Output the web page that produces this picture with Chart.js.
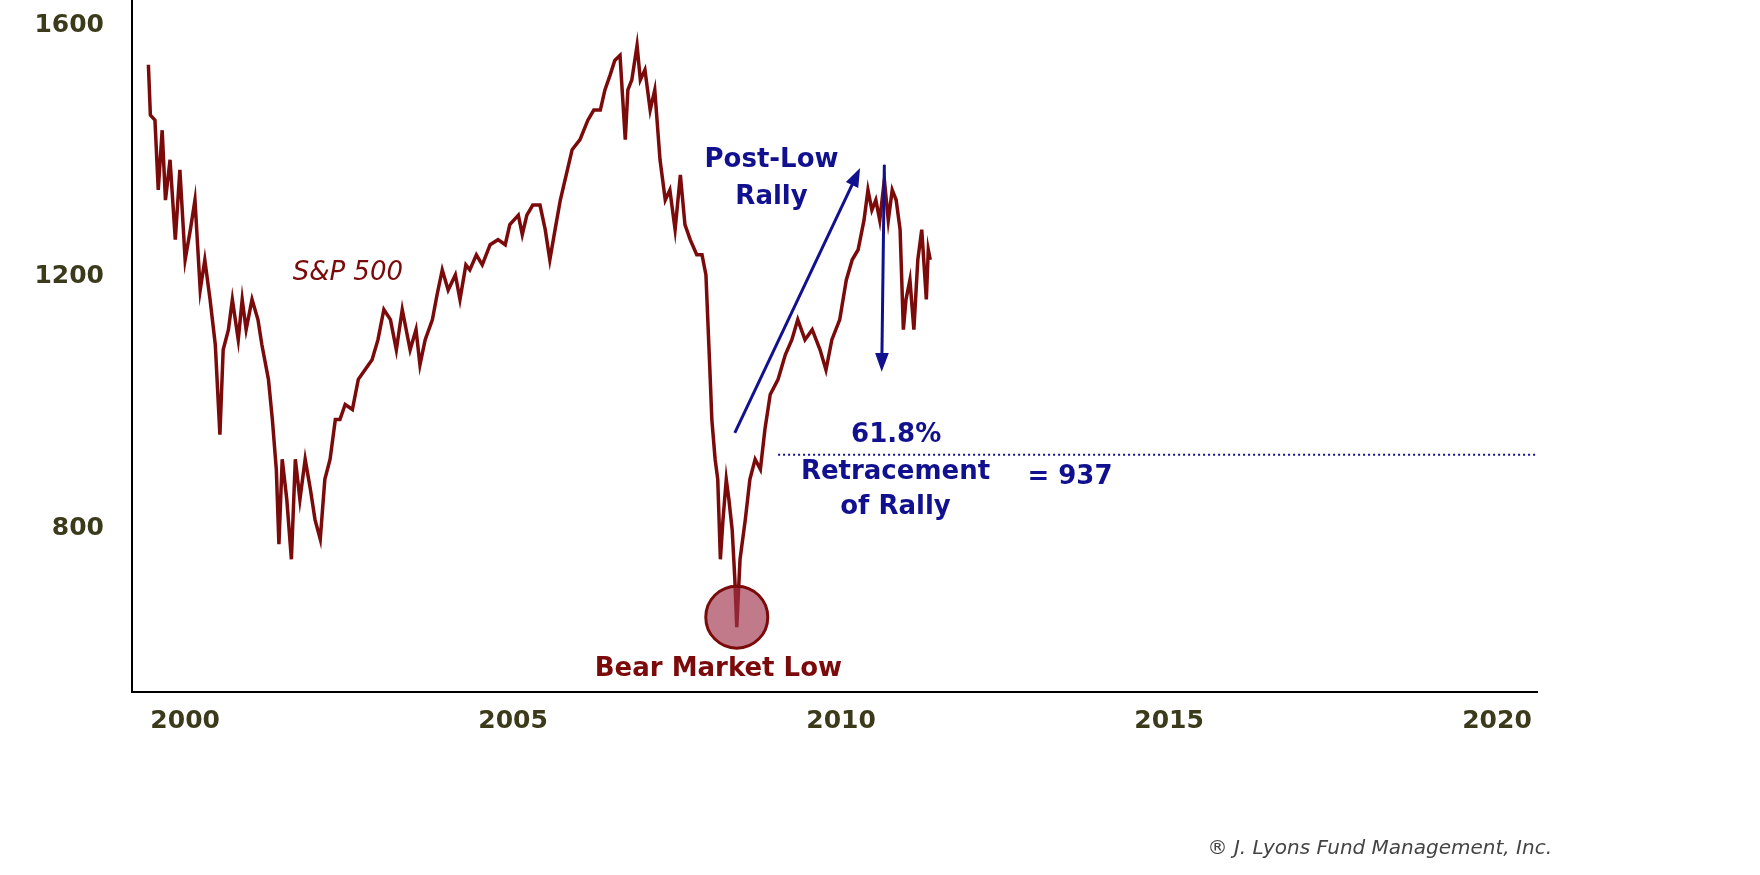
<!DOCTYPE html>
<html>
<head>
<meta charset="utf-8">
<script src="https://cdn.jsdelivr.net/npm/chart.js@4"></script>
<style>
  html, body { margin: 0; padding: 0; background: #fff; }
  #wrap { width: 1760px; height: 875px; }
</style>
</head>
<body>
<div id="wrap"><canvas id="chart"></canvas></div>
<script>
// S&P 500 (year, index level)
const years = [1999.44,1999.47,1999.54,1999.59,1999.65,1999.70,1999.77,1999.85,1999.92,2000.00,2000.08,2000.15,2000.23,2000.30,2000.38,2000.46,2000.53,2000.58,2000.66,2000.72,2000.81,2000.87,2000.93,2001.02,2001.11,2001.17,2001.27,2001.33,2001.39,2001.43,2001.48,2001.55,2001.62,2001.68,2001.75,2001.83,2001.91,2001.98,2002.06,2002.13,2002.21,2002.29,2002.36,2002.44,2002.55,2002.64,2002.74,2002.85,2002.94,2003.03,2003.13,2003.22,2003.31,2003.43,2003.52,2003.58,2003.66,2003.77,2003.84,2003.92,2004.01,2004.12,2004.19,2004.28,2004.34,2004.44,2004.53,2004.65,2004.77,2004.88,2004.95,2005.08,2005.14,2005.21,2005.30,2005.41,2005.49,2005.56,2005.64,2005.72,2005.81,2005.90,2006.02,2006.14,2006.23,2006.33,2006.40,2006.48,2006.55,2006.63,2006.71,2006.75,2006.81,2006.89,2006.94,2007.01,2007.09,2007.16,2007.24,2007.32,2007.39,2007.47,2007.55,2007.62,2007.70,2007.80,2007.88,2007.94,2008.00,2008.03,2008.08,2008.12,2008.16,2008.20,2008.25,2008.29,2008.34,2008.38,2008.41,2008.46,2008.54,2008.61,2008.69,2008.77,2008.84,2008.92,2009.04,2009.15,2009.25,2009.34,2009.45,2009.56,2009.68,2009.77,2009.86,2009.98,2010.08,2010.17,2010.26,2010.35,2010.41,2010.47,2010.53,2010.59,2010.66,2010.72,2010.78,2010.84,2010.90,2010.95,2010.99,2011.05,2011.11,2011.17,2011.23,2011.30,2011.33,2011.36];
const spx = [1537,1457,1449,1338,1433,1322,1386,1259,1370,1227,1275,1322,1179,1227,1164,1092,949,1084,1116,1164,1100,1164,1116,1164,1132,1092,1037,973,894,775,910,846,751,910,846,910,862,814,783,878,910,973,973,997,989,1037,1052,1068,1100,1148,1132,1084,1148,1084,1116,1060,1100,1132,1171,1211,1179,1203,1164,1219,1211,1235,1219,1251,1259,1251,1283,1298,1267,1298,1314,1314,1275,1227,1275,1322,1362,1402,1418,1449,1465,1465,1497,1521,1544,1552,1418,1497,1513,1568,1513,1529,1465,1497,1386,1322,1338,1275,1362,1283,1259,1235,1235,1203,1052,973,910,878,751,814,878,846,798,720,643,751,814,878,910,894,958,1013,1037,1076,1100,1132,1100,1116,1084,1052,1100,1132,1195,1227,1243,1290,1338,1306,1322,1290,1354,1290,1338,1322,1275,1116,1164,1195,1116,1227,1275,1164,1243,1227];
const xTicks = [2000, 2005, 2010, 2015, 2020];
const yTicks = [800, 1200, 1600];
const retraceLevel = 917;

const RED = "#7b0a0a";
const NAVY = "#11118f";
const TICK = "#3b3b1c";
const FONT = "'DejaVu Sans', Verdana, sans-serif";

const annotations = {
  id: "annotations",
  afterDatasetsDraw(chart) {
    const { ctx, scales: { x, y } } = chart;
    const px = (v) => x.getPixelForValue(v);
    const py = (v) => y.getPixelForValue(v);
    ctx.save();
    // bear market low circle
    ctx.beginPath();
    ctx.arc(px(2008.41), py(659), 31, 0, Math.PI * 2);
    ctx.fillStyle = "rgba(160,50,75,0.65)";
    ctx.fill();
    ctx.lineWidth = 3;
    ctx.strokeStyle = RED;
    ctx.stroke();
    // dotted retracement line
    ctx.beginPath();
    ctx.setLineDash([2, 3]);
    ctx.lineWidth = 2;
    ctx.strokeStyle = NAVY;
    ctx.moveTo(px(2009.04), py(retraceLevel));
    ctx.lineTo(chart.chartArea.right, py(retraceLevel));
    ctx.stroke();
    ctx.setLineDash([]);
    // arrows
    const arrow = (x1, y1, x2, y2) => {
      const a = Math.atan2(y2 - y1, x2 - x1);
      ctx.beginPath();
      ctx.lineWidth = 3;
      ctx.strokeStyle = NAVY;
      ctx.moveTo(x1, y1);
      ctx.lineTo(x2 - 8 * Math.cos(a), y2 - 8 * Math.sin(a));
      ctx.stroke();
      ctx.beginPath();
      ctx.fillStyle = NAVY;
      ctx.moveTo(x2, y2);
      ctx.lineTo(x2 - 20 * Math.cos(a - 0.35), y2 - 20 * Math.sin(a - 0.35));
      ctx.lineTo(x2 - 20 * Math.cos(a + 0.35), y2 - 20 * Math.sin(a + 0.35));
      ctx.closePath();
      ctx.fill();
    };
    arrow(px(2008.38), py(952), px(2010.29), py(1373));
    arrow(px(2010.66), py(1378), px(2010.62), py(1049));
    // texts
    const text = (s, tx, ty) => ctx.fillText(s, px(tx), py(ty));
    ctx.textAlign = "center";
    ctx.textBaseline = "middle";
    ctx.font = "bold 26px " + FONT;
    ctx.fillStyle = NAVY;
    text("Post-Low", 2008.94, 1386);
    text("Rally", 2008.94, 1327);
    text("61.8%", 2010.84, 948);
    text("Retracement", 2010.83, 890);
    text("of Rally", 2010.83, 833);
    text("= 937", 2013.49, 881);
    ctx.fillStyle = RED;
    text("Bear Market Low", 2008.13, 576);
    ctx.font = "italic 26px " + FONT;
    text("S&P 500", 2002.48, 1206);
    ctx.textAlign = "right";
    ctx.font = "italic 20px " + FONT;
    ctx.fillStyle = "#444";
    ctx.fillText("\u00AE J. Lyons Fund Management, Inc.", 1552, 849);
    ctx.restore();
  }
};

new Chart(document.getElementById("chart"), {
  type: "line",
  data: {
    datasets: [{
      label: "S&P 500",
      data: years.map((t, i) => ({ x: t, y: spx[i] })),
      borderColor: RED,
      borderWidth: 3.5,
      pointRadius: 0,
      tension: 0
    }]
  },
  options: {
    responsive: true,
    maintainAspectRatio: false,
    animation: false,
    layout: { padding: { top: 0, right: 223, bottom: 0, left: 0 } },
    plugins: { legend: { display: false }, tooltip: { enabled: false } },
    scales: {
      x: {
        type: "linear",
        min: 1999.19,
        max: 2020.61,
        afterFit: (s) => { s.height = 183; s.paddingLeft = 0; s.paddingRight = 0; },
        afterBuildTicks: (s) => { s.ticks = xTicks.map((v) => ({ value: v })); },
        grid: { display: false, drawTicks: false },
        border: { color: "#000", width: 2 },
        ticks: {
          padding: 14,
          color: TICK,
          font: { family: FONT, size: 25, weight: "bold" },
          callback: (v) => String(v)
        }
      },
      y: {
        min: 540,
        max: 1640,
        afterFit: (s) => { s.width = 132; s.paddingTop = 0; s.paddingBottom = 0; },
        afterBuildTicks: (s) => { s.ticks = yTicks.map((v) => ({ value: v })); },
        grid: { display: false, drawTicks: false },
        border: { color: "#000", width: 2 },
        ticks: {
          padding: 28,
          color: TICK,
          font: { family: FONT, size: 25, weight: "bold" },
          callback: (v) => String(v)
        }
      }
    }
  },
  plugins: [annotations]
});
</script>
</body>
</html>
